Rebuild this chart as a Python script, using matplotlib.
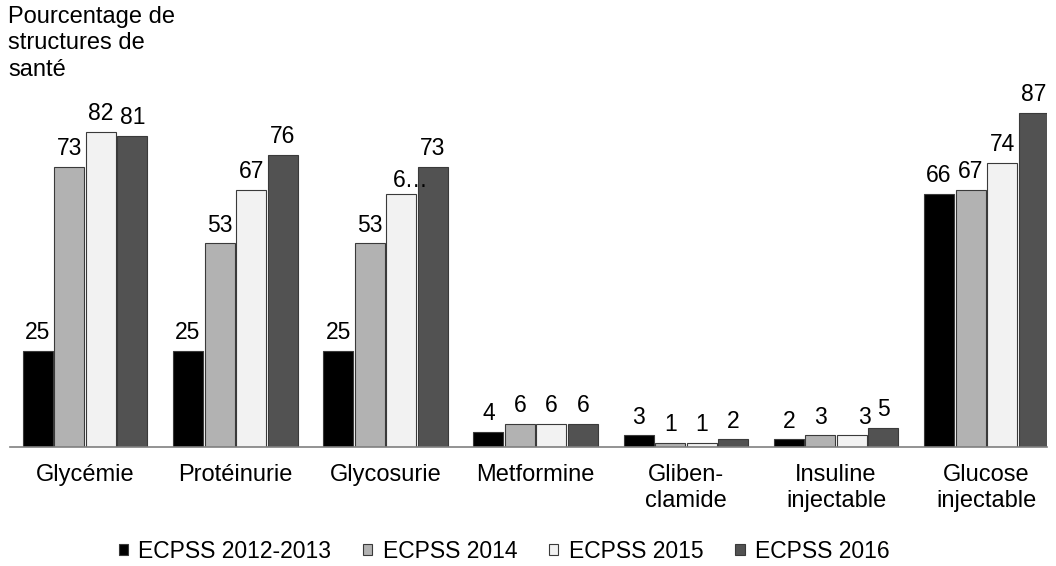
import matplotlib
matplotlib.use("Agg")
import matplotlib.pyplot as plt
import numpy as np
from matplotlib.patches import Patch

plt.rcParams["font.family"] = ["Liberation Sans", "DejaVu Sans"]
plt.rcParams["font.size"] = 16.5

categories = ["Glycémie", "Protéinurie", "Glycosurie", "Metformine",
              "Gliben-\nclamide", "Insuline\ninjectable", "Glucose\ninjectable"]
series_names = ["ECPSS 2012-2013", "ECPSS 2014", "ECPSS 2015", "ECPSS 2016"]
v_2012_2013 = [25, 25, 25, 4, 3, 2, 66]
v_2014 = [73, 53, 53, 6, 1, 3, 67]
v_2015 = [82, 67, 66, 6, 1, 3, 74]
v_2016 = [81, 76, 73, 6, 2, 5, 87]
series = [v_2012_2013, v_2014, v_2015, v_2016]
colors = ["#000000", "#b2b2b2", "#f2f2f2", "#525252"]

fig = plt.figure(figsize=(10.56, 5.66), dpi=100)
ax = fig.add_axes([10/1056, 1-447/566, 1037/1056, 384/566])

x = np.arange(len(categories))
step = 0.21
width = 0.2
for i, (vals, col) in enumerate(zip(series, colors)):
    pos = x + (i-1.5)*step
    ax.bar(pos, vals, width, color=col, edgecolor="#3a3a3a", linewidth=0.8, zorder=2)
    for j, (p, v) in enumerate(zip(pos, vals)):
        txt = str(v)
        dx, dy = 0, 8.5
        if i == 2 and j == 2:   # label tronqué dans l'original
            txt, dx, dy = "6…", 6.5, 4.5
        if i == 2 and j == 5:
            dx = 9
        ax.annotate(txt, (p, v), xytext=(dx, dy), textcoords="offset points",
                    ha="center", va="baseline", fontsize=16.5)

ax.set_xlim(-0.5, -0.5 + 1037/150.2)
ax.set_ylim(0, 100)
ax.set_xticks(x)
ax.set_xticklabels(categories, fontsize=17, linespacing=1.25)
ax.tick_params(axis="x", length=0, pad=12)
ax.set_yticks([])
for s in ["top", "right", "left"]:
    ax.spines[s].set_visible(False)
ax.spines["bottom"].set_color("#808080")
ax.spines["bottom"].set_linewidth(1.2)

fig.text(8/1056, 1-6/566, "Pourcentage de\nstructures de\nsanté", ha="left", va="top",
         fontsize=17, linespacing=1.25)

handles = [Patch(facecolor=c, edgecolor="#3a3a3a", linewidth=0.8) for c in colors]
fig.legend(handles, series_names, loc="center", bbox_to_anchor=(504/1056, 1-551/566),
           ncol=4, frameon=False, fontsize=16.5, handlelength=0.4, handleheight=0.4,
           handletextpad=0.45, columnspacing=1.4, borderpad=0)

fig.savefig("out.png", dpi=100)
